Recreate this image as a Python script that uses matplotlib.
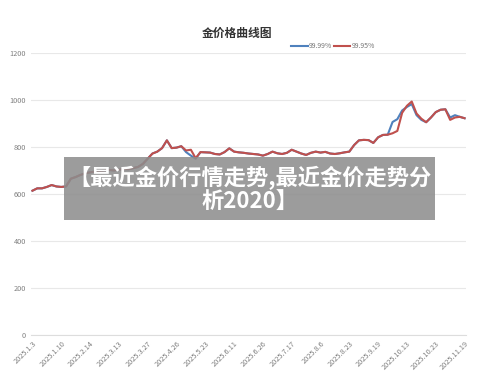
import matplotlib.pyplot as plt
from matplotlib.patches import Rectangle

plt.rcParams['font.family'] = ['Noto Sans CJK SC', 'DejaVu Sans']

# gold price, 99.95% and 99.99%
red = [614, 624, 624, 630, 638, 632, 630, 632, 665, 672,
       681, 688, 692, 695, 697, 700, 702, 700, 703, 706,
       705, 710, 715, 728, 750, 772, 780, 795, 828, 795,
       797, 803, 785, 788, 752, 778, 777, 776, 770, 768,
       778, 794, 780, 777, 775, 772, 770, 768, 763, 770,
       780, 773, 770, 775, 788, 780, 772, 766, 775, 780,
       776, 779, 772, 770, 773, 777, 780, 808, 828, 830,
       829, 817, 841, 851, 852, 858, 868, 945, 975, 993,
       942, 920, 905, 925, 948, 958, 960, 915, 925, 928,
       922]
blue = list(red)
blue[32:35] = [778, 763, 750]
blue[75:82] = [906, 918, 955, 970, 982, 935, 915]
blue[87:89] = [925, 935]

x_labels = ['2025.1.3', '2025.1.10', '2025.2.14', '2025.3.13', '2025.3.27',
            '2025.4.26', '2025.5.23', '2025.6.11', '2025.6.26', '2025.7.17',
            '2025.8.6', '2025.8.23', '2025.9.19', '2025.10.13', '2025.10.23',
            '2025.11.19']

fig = plt.figure(figsize=(5, 3.8), dpi=100)
ax = fig.add_axes([0.062, 0.118, 0.870, 0.743])

x = range(len(red))
ax.plot(x, blue, color='#4f81bd', lw=1.5, label='99.99%')
ax.plot(x, red, color='#c0504d', lw=1.5, label='99.95%')

ax.set_ylim(0, 1200)
ax.set_xlim(-0.3, len(red) - 0.7)
ax.set_yticks(range(0, 1201, 200))
ax.set_xticks(range(0, len(red), 6))
ax.set_xticklabels(x_labels, rotation=45, ha='right', rotation_mode='anchor')
ax.tick_params(axis='both', length=0, labelsize=5.3, labelcolor='#808080')
ax.tick_params(axis='x', pad=3)
ax.grid(axis='y', color='#e8e8e8', lw=0.8)
ax.set_axisbelow(True)
for s in ['top', 'right', 'left']:
    ax.spines[s].set_visible(False)
ax.spines['bottom'].set_color('#dddddd')

fig.text(0.474, 0.913, '金价格曲线图', ha='center', va='center', fontsize=8.5,
         fontweight='bold', color='#333333')
ax.legend(loc='lower left', bbox_to_anchor=(0.592, 1.0), ncol=2, frameon=False,
          fontsize=5, labelcolor='#777777', handlelength=2.4, handletextpad=0.15,
          columnspacing=0.2, borderaxespad=0)

# banner overlay
fig.patches.append(Rectangle((0.128, 0.421), 0.742, 0.166, transform=fig.transFigure,
                             facecolor='#8d8d8d', alpha=0.87, edgecolor='none', zorder=5))
fig.text(0.5, 0.532, '【最近金价行情走势,最近金价走势分', ha='center', va='center',
         fontsize=16, fontweight='bold', color='white', zorder=6)
fig.text(0.5, 0.471, '析2020】', ha='center', va='center',
         fontsize=16, fontweight='bold', color='white', zorder=6)

fig.savefig('out.png', dpi=100)
